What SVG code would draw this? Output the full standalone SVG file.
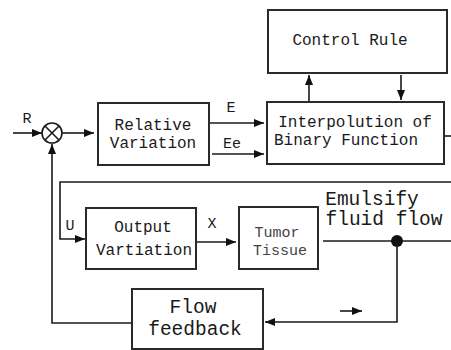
<svg xmlns="http://www.w3.org/2000/svg" width="451" height="350" viewBox="0 0 451 350">
<style>
.box{fill:#fff;stroke:#2a2a2a;stroke-width:2}
.ln{fill:none;stroke:#1a1a1a;stroke-width:1.6}
.ar{marker-end:url(#ah)}
text{font-family:"Liberation Mono","DejaVu Sans Mono",monospace;fill:#1a1a1a;text-anchor:middle}
.t16{font-size:16px}
.t20{font-size:19.5px}
.lbl{font-size:15px}
.thin{font-size:15px;fill:#444}
</style>
<defs>
<marker id="ah" markerUnits="userSpaceOnUse" markerWidth="10" markerHeight="8" refX="10" refY="4" orient="auto">
<path d="M0,0 L10,4 L0,8 Z" fill="#111"/>
</marker>
</defs>
<rect width="451" height="350" fill="#fff"/>
<g id="connectors">
<line class="ln ar" x1="13" y1="133" x2="42" y2="133"/>
<line class="ln ar" x1="62" y1="133" x2="94" y2="133"/>
<line class="ln ar" x1="209" y1="123" x2="264" y2="123"/>
<line class="ln ar" x1="212" y1="154" x2="264" y2="154"/>
<line class="ln ar" x1="309" y1="101" x2="309" y2="75"/>
<line class="ln ar" x1="401" y1="75" x2="401" y2="100"/>
<line class="ln" x1="444" y1="136" x2="451" y2="136"/>
<polyline class="ln ar" points="451,182 60,182 60,239 85,239"/>
<line class="ln ar" x1="196" y1="242" x2="236" y2="242"/>
<line class="ln" x1="323" y1="241" x2="451" y2="241"/>
<circle cx="397" cy="241" r="6" fill="#111"/>
<polyline class="ln ar" points="397,241 397,322 265,322"/>
<line class="ln ar" x1="340" y1="311" x2="362" y2="311"/>
<polyline class="ln ar" points="132,323 52,323 52,144"/>
</g>
<g id="sum">
<circle cx="52" cy="133" r="10" fill="#fff" stroke="#1a1a1a" stroke-width="1.6"/>
<line class="ln" x1="45" y1="126" x2="59" y2="140"/>
<line class="ln" x1="59" y1="126" x2="45" y2="140"/>
<text class="lbl" x="27" y="123">R</text>
</g>
<g id="relative">
<rect class="box" x="98" y="103" width="111" height="62"/>
<text class="t16" x="153" y="130">Relative</text>
<text class="t16" x="153" y="148">Variation</text>
</g>
<g id="labels">
<text class="lbl" x="231" y="112">E</text>
<text class="lbl" x="232" y="148">Ee</text>
<text class="lbl" x="70" y="230">U</text>
<text class="lbl" x="212" y="228">X</text>
</g>
<g id="control">
<rect class="box" x="268" y="10" width="179" height="63"/>
<text class="t16" x="350" y="45">Control Rule</text>
</g>
<g id="interp">
<rect class="box" x="267" y="102" width="177" height="62"/>
<text class="t16" x="355" y="127">Interpolution of</text>
<text class="t16" x="346" y="145">Binary Function</text>
</g>
<g id="output">
<rect class="box" x="86" y="208" width="110" height="61"/>
<text class="t16" x="143" y="232">Output</text>
<text class="t16" x="144" y="255">Vartiation</text>
</g>
<g id="tumor">
<rect class="box" x="239" y="207" width="79" height="62"/>
<text class="thin" x="277" y="237">Tumor</text>
<text class="thin" x="280" y="255">Tissue</text>
</g>
<g id="emulsify">
<text class="t20" x="372" y="205">Emulsify</text>
<text class="t20" x="384" y="225">fluid flow</text>
</g>
<g id="flow">
<rect class="box" x="132" y="289" width="131" height="60"/>
<text class="t20" x="193" y="313">Flow</text>
<text class="t20" x="195" y="335">feedback</text>
</g>
</svg>
